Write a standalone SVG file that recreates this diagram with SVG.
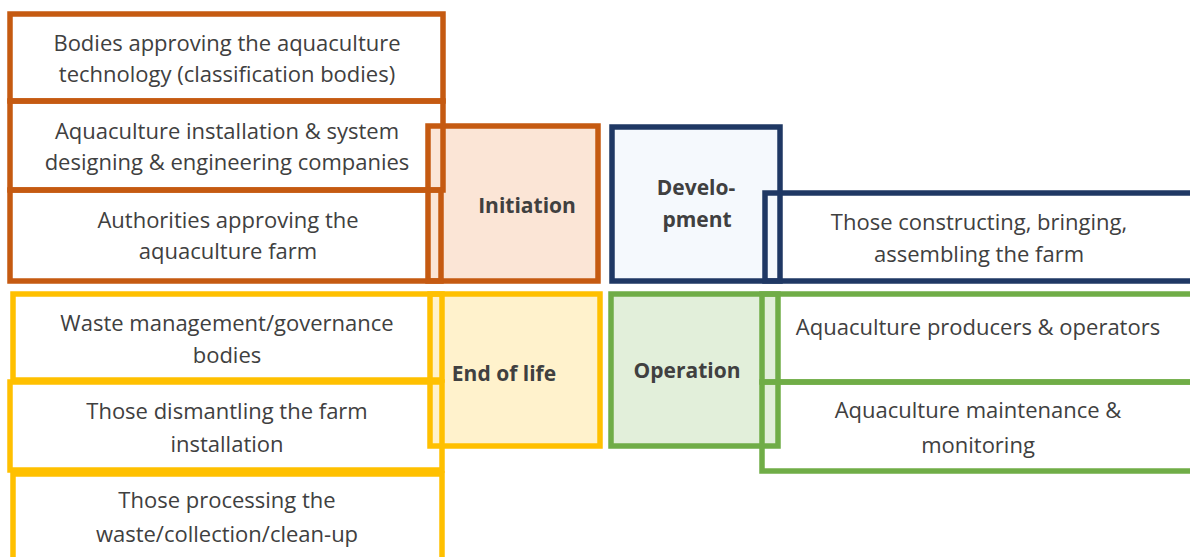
<svg xmlns="http://www.w3.org/2000/svg" width="1190" height="557" viewBox="0 0 1190 557">
<style>
.b{stroke-width:5.5;fill:none}
.o{stroke:#C55A11}
.n{stroke:#1F3864}
.y{stroke:#FFC000}
.g{stroke:#70AD47}
text{font-family:"Open Sans","Liberation Sans",sans-serif;font-size:22px;fill:#404040;text-anchor:middle}
.h{font-weight:bold;font-size:21px}
</style>
<rect width="1190" height="557" fill="#fff"/>
<g id="initiation">
<rect x="428" y="126" width="170" height="155" fill="#FBE5D6" class="o" stroke-width="5.5"/>
<text class="h" x="527" y="213">Initiation</text>
</g>
<g id="development">
<rect x="612" y="127" width="168" height="154" fill="#F5F9FD" class="n" stroke-width="5.5"/>
<text class="h" x="696" y="195">Develo-</text>
<text class="h" x="697" y="227">pment</text>
</g>
<g id="end-of-life">
<rect x="430" y="294" width="170" height="152" fill="#FFF2CC" class="y" stroke-width="5.5"/>
<text class="h" x="504" y="381">End of life</text>
</g>
<g id="operation">
<rect x="611" y="294" width="167" height="152" fill="#E2EFDA" class="g" stroke-width="5.5"/>
<text class="h" x="687" y="378">Operation</text>
</g>
<g id="bodies-approving">
<rect class="b o" x="10" y="14" width="433" height="87"/>
<text x="227" y="51">Bodies approving the aquaculture</text>
<text x="227" y="82">technology (classification bodies)</text>
</g>
<g id="installation-design">
<rect class="b o" x="10" y="101" width="433" height="89"/>
<text x="227" y="139">Aquaculture installation &amp; system</text>
<text x="227" y="170">designing &amp; engineering companies</text>
</g>
<g id="authorities">
<rect class="b o" x="10" y="190" width="431" height="91"/>
<text x="228" y="228">Authorities approving the</text>
<text x="228" y="259">aquaculture farm</text>
</g>
<g id="constructing">
<rect class="b n" x="765" y="193" width="440" height="88"/>
<text x="979" y="230">Those constructing, bringing,</text>
<text x="979" y="262">assembling the farm</text>
</g>
<g id="producers">
<rect class="b g" x="762" y="294" width="440" height="88"/>
<text x="978" y="335">Aquaculture producers &amp; operators</text>
</g>
<g id="maintenance">
<rect class="b g" x="762" y="382" width="440" height="89"/>
<text x="978" y="418">Aquaculture maintenance &amp;</text>
<text x="978" y="453">monitoring</text>
</g>
<g id="waste-governance">
<rect class="b y" x="13" y="294" width="429" height="86"/>
<text x="227" y="331">Waste management/governance</text>
<text x="227" y="363">bodies</text>
</g>
<g id="dismantling">
<rect class="b y" x="10" y="382" width="432" height="88"/>
<text x="227" y="419">Those dismantling the farm</text>
<text x="227" y="452">installation</text>
</g>
<g id="processing">
<rect class="b y" x="13" y="474" width="429" height="100"/>
<text x="227" y="508">Those processing the</text>
<text x="227" y="542">waste/collection/clean-up</text>
</g>
<g id="connectors"></g>
</svg>
